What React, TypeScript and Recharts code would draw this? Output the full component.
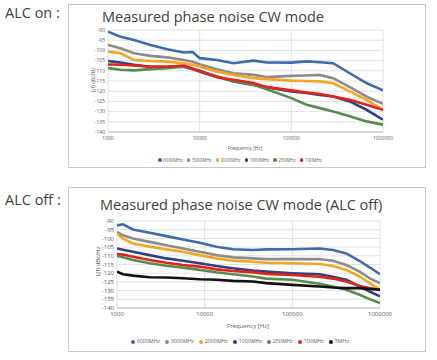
import React from "react";
import { LineChart, Line, XAxis, YAxis, CartesianGrid } from "recharts";

// ---------- data ----------
const freqOn = [1000, 1370, 1920, 2910, 4420, 6700, 8400, 10000, 15400, 23400, 38600, 53900, 100000, 147000, 205000, 286000, 434000, 660000, 1000000];
const on6000 = [-90.8, -93.3, -94.9, -97.3, -99.4, -101, -100.8, -103.8, -104.7, -106.3, -105, -105.9, -106, -105.4, -105.8, -106.3, -111.2, -116, -119.6];
const on3000 = [-97.3, -99, -101.4, -102.7, -103.4, -104.7, -105.6, -106.8, -109.2, -111.2, -112, -113.1, -112.5, -112.3, -112, -113.6, -118, -122.6, -126.2];
const on2000 = [-100.6, -101.4, -104.7, -105.2, -105.5, -106.3, -107, -107.9, -110.4, -112, -113.6, -114.1, -114.8, -115, -115.2, -116.1, -120.1, -124.2, -129.1];
const on1000 = [-105.2, -106, -107.1, -108, -108, -108, -109, -110, -112.8, -115.2, -116.9, -118, -120.1, -120.9, -121.8, -122.6, -125, -129.1, -134];
const on250 = [-108.7, -109.5, -109.8, -109.2, -108.7, -108, -109.2, -110.4, -112.8, -115, -116.9, -119, -123.4, -126.6, -128.3, -129.9, -132.3, -134.8, -136.4];
const on100 = [-106.9, -107, -107.4, -108, -108, -107.4, -109, -110.4, -113.2, -114.4, -116, -118, -119.6, -120.6, -121.4, -122.6, -124.2, -126.6, -129.1];

const freqOff = [1000, 1170, 1520, 2360, 3650, 5660, 8770, 13600, 21000, 35600, 50500, 100000, 204000, 290000, 413000, 586000, 762000, 1000000];
const off6000 = [-92.5, -91.9, -94.9, -96.8, -98.7, -100.6, -102.5, -104.8, -106.2, -106.7, -106.3, -106.2, -105.8, -106.7, -108.6, -113, -116.6, -120.6];
const off3000 = [-96.3, -98.2, -100.1, -102, -103.9, -105.8, -107.7, -109.6, -110.9, -111.5, -111.9, -111.9, -111.9, -112.8, -115.3, -119.1, -122.9, -125.7];
const off2000 = [-97.2, -100.1, -102.9, -104.8, -106.3, -107.7, -109.6, -111.5, -112.8, -113.4, -114, -114.3, -114.7, -115.9, -118.1, -121.9, -125.7, -129.5];
const off1000 = [-105.8, -106.5, -107.7, -109.6, -111.5, -112.8, -114.3, -115.9, -117.2, -118.5, -119.1, -120, -120.6, -122, -123.8, -127.6, -130.5, -133.3];
const off250 = [-110.1, -110.8, -112.4, -114.3, -115.7, -116.8, -118.1, -119.5, -120.6, -121.9, -123.1, -123.8, -126.1, -127.6, -129.5, -132.4, -134.9, -137.2];
const off100 = [-109, -109.3, -110.5, -112.4, -114, -115.3, -116.2, -117.8, -118.7, -119.5, -120.4, -121, -122, -123.1, -124.8, -127.3, -128.6, -129.5];
const off5 = [-119.1, -120.6, -121.4, -122.3, -122.5, -122.9, -123.5, -123.8, -124.4, -124.8, -125.7, -126.7, -127.6, -128.2, -128.6, -128.6, -129, -129.5];

const xTicks = [1000, 10000, 100000, 1000000];
const yTicks = [-90, -95, -100, -105, -110, -115, -120, -125, -130, -135, -140];

const namesOn = ["6000MHz", "3000MHz", "2000MHz", "1000MHz", "250MHz", "100MHz"];
const namesOff = ["6000MHz", "3000MHz", "2000MHz", "1000MHz", "250MHz", "100MHz", "5MHz"];
const colorsOn = ["#3F6BAA", "#8C8C8C", "#F5A623", "#323F80", "#5A8A50", "#E2231A"];
const colorsOff = ["#3F6BAA", "#8C8C8C", "#F5A623", "#323F80", "#5A8A50", "#E2231A", "#111111"];

const seriesOn = [on6000, on3000, on2000, on1000, on250, on100];
const seriesOff = [off6000, off3000, off2000, off1000, off250, off100, off5];

function buildRows(freq: number[], series: number[][]) {
  return freq.map((f, i) => {
    const row: Record<string, number> = { f };
    series.forEach((s, k) => {
      row["s" + k] = s[i];
    });
    return row;
  });
}

const rowsOn = buildRows(freqOn, seriesOn);
const rowsOff = buildRows(freqOff, seriesOff);

const FONT = "'Open Sans', 'Noto Sans', sans-serif";
const TXT = "#404040";

function Legend({ names, colors, left, top, width, fontSize, gap }: any) {
  return (
    <div
      style={{
        position: "absolute",
        left,
        top,
        width,
        display: "flex",
        justifyContent: "center",
        gap,
        fontSize,
        lineHeight: 1,
        color: "#595959",
        fontFamily: FONT,
        whiteSpace: "nowrap",
      }}
    >
      {names.map((n: string, i: number) => (
        <div key={n} style={{ display: "flex", alignItems: "center", gap: 1.5 }}>
          <span
            style={{
              display: "inline-block",
              width: fontSize * 0.8,
              height: fontSize * 0.8,
              borderRadius: "50%",
              background: colors[i],
            }}
          />
          <span>{n}</span>
        </div>
      ))}
    </div>
  );
}

function Panel({ rows, names, colors, left, top, width, height, yAxisW, fs, lw }: any) {
  return (
    <div style={{ position: "absolute", left, top }}>
      <LineChart width={width} height={height} data={rows} margin={{ top: 5, right: 20, left: 0, bottom: 0 }}>
        <CartesianGrid stroke="#D9D9D9" strokeWidth={0.8} />
        <XAxis
          dataKey="f"
          type="number"
          scale="log"
          domain={[1000, 1000000]}
          ticks={xTicks}
          tickLine={false}
          tickSize={4}
          tickMargin={0}
          axisLine={{ stroke: "#BFBFBF" }}
          tick={{ fontSize: fs, fill: "#595959", fontFamily: FONT }}
          height={14}
          interval={0}
          allowDataOverflow
        />
        <YAxis
          type="number"
          domain={[-140, -90]}
          ticks={yTicks}
          tickLine={false}
          tickSize={3}
          tickMargin={0}
          axisLine={false}
          width={yAxisW}
          tick={{ fontSize: fs, fill: "#595959", fontFamily: FONT }}
          interval={0}
        />
        {names.map((n: string, i: number) => (
          <Line
            key={n}
            dataKey={"s" + i}
            name={n}
            stroke={colors[i]}
            strokeWidth={lw}
            dot={false}
            type="linear"
            isAnimationActive={false}
          />
        ))}
      </LineChart>
    </div>
  );
}

export default function App() {
  const abs = (s: any) => ({ position: "absolute" as const, ...s });
  return (
    <div
      style={{
        position: "fixed",
        left: 0,
        top: 0,
        width: 437,
        height: 360,
        background: "#fff",
        fontFamily: FONT,
        color: TXT,
        overflow: "hidden",
      }}
    >
      {/* panel 1 */}
      <div style={abs({ left: 5, top: 6, fontSize: 14.5, lineHeight: 1, whiteSpace: "nowrap" })}>ALC on :</div>
      <div style={abs({ left: 68, top: 4, width: 358, height: 164, border: "1px solid #C8C8C8", boxSizing: "border-box" })} />
      <div style={abs({ left: 102, top: 9.5, fontSize: 14.5, lineHeight: 1, whiteSpace: "nowrap" })}>
        Measured phase noise CW mode
      </div>
      <Panel rows={rowsOn} names={namesOn} colors={colorsOn} left={60} top={25} width={343} height={121} yAxisW={48} fs={5} lw={2.6} />
      <div
        style={abs({
          left: 93 - 30,
          top: 80 - 3,
          width: 60,
          textAlign: "center",
          fontSize: 5,
          lineHeight: "6px",
          color: "#595959",
          transform: "rotate(-90deg)",
        })}
      >
        L(f) dBc/Hz
      </div>
      <div style={abs({ left: 195, top: 144.5, width: 100, textAlign: "center", fontSize: 5, lineHeight: "6px", color: "#595959" })}>
        Frequency [Hz]
      </div>
      <Legend names={namesOn} colors={colorsOn} left={90} top={157.5} width={300} fontSize={4.5} gap={4} />

      {/* panel 2 */}
      <div style={abs({ left: 5, top: 192.5, fontSize: 14.5, lineHeight: 1, whiteSpace: "nowrap" })}>ALC off :</div>
      <div style={abs({ left: 68, top: 187, width: 358, height: 165, border: "1px solid #C8C8C8", boxSizing: "border-box" })} />
      <div style={abs({ left: 100, top: 198, fontSize: 14.5, lineHeight: 1, whiteSpace: "nowrap" })}>
        Measured phase noise CW mode (ALC off)
      </div>
      <Panel rows={rowsOff} names={namesOff} colors={colorsOff} left={60} top={216} width={340} height={106} yAxisW={57} fs={6} lw={2.6} />
      <div
        style={abs({
          left: 98 - 30,
          top: 261 - 3.5,
          width: 60,
          textAlign: "center",
          fontSize: 6,
          lineHeight: "7px",
          color: "#404040",
          transform: "rotate(-90deg)",
        })}
      >
        L(f) dBc/Hz
      </div>
      <div style={abs({ left: 198, top: 322.5, width: 100, textAlign: "center", fontSize: 6, lineHeight: "7px", color: "#595959" })}>
        Frequency [Hz]
      </div>
      <Legend names={namesOff} colors={colorsOff} left={90} top={339} width={300} fontSize={5.3} gap={5} />
    </div>
  );
}
